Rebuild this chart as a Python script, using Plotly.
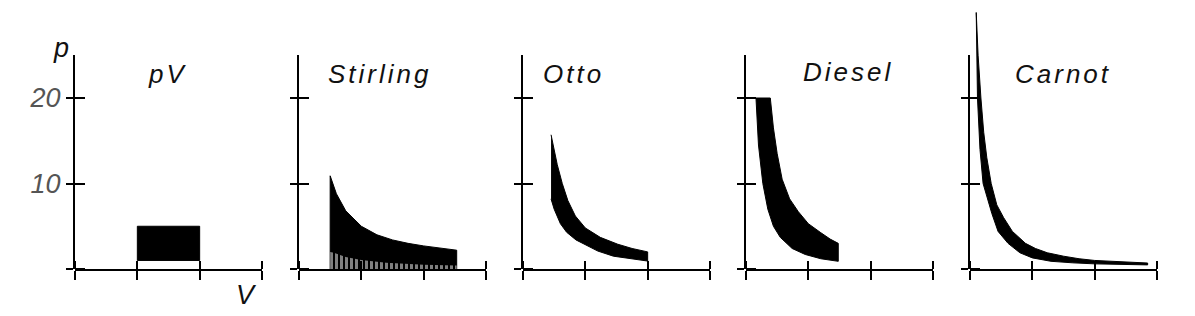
import plotly.graph_objects as go

W, H = 1195, 316

# ---------------- data ----------------
titles = ["pV", "Stirling", "Otto", "Diesel", "Carnot"]
x_tick_vals = [0, 1, 2, 3]
y_tick_vals = [0, 10, 20]
y_tick_text = ["", "10", "20"]

# pV rectangle
pv_v = [1, 1, 2, 2, 1]
pv_p = [1, 5, 5, 1, 1]

# Stirling: hot isotherm (solid region down to axis) and cold isotherm (hatched region)
stirling_hot_v = [0.5, 0.5, 0.6, 0.75, 1.0, 1.25, 1.5, 1.75, 2.0, 2.25, 2.53, 2.53]
stirling_hot_p = [0, 10.9, 8.8, 6.8, 5.0, 4.0, 3.4, 3.0, 2.7, 2.45, 2.2, 0]
stirling_cold_v = [0.5, 0.56, 0.75, 1.0, 1.4, 2.0, 2.53]
stirling_cold_p = [2.0, 1.9, 1.4, 1.05, 0.72, 0.5, 0.4]

# Otto: upper adiabat then lower adiabat (reversed)
otto_upper_v = [0.45, 0.5, 0.55, 0.63, 0.72, 0.84, 1.0, 1.24, 1.52, 1.75, 2.0]
otto_upper_p = [15.7, 13.8, 12.2, 10.0, 8.0, 6.2, 4.8, 3.7, 2.9, 2.4, 2.0]
otto_lower_v = [2.0, 1.7, 1.45, 1.2, 1.0, 0.85, 0.7, 0.6, 0.5, 0.45]
otto_lower_p = [0.93, 1.2, 1.5, 2.1, 2.8, 3.4, 4.3, 5.3, 7.0, 8.2]

# Diesel: isobar at 20, expansion adiabat, compression adiabat (reversed)
diesel_upper_v = [0.16, 0.39, 0.44, 0.5, 0.58, 0.7, 0.84, 1.0, 1.19, 1.35, 1.48]
diesel_upper_p = [20, 20, 16.5, 13.5, 10.5, 8.2, 6.7, 5.3, 4.3, 3.5, 3.0]
diesel_lower_v = [1.48, 1.2, 0.95, 0.74, 0.55, 0.44, 0.35, 0.27, 0.2, 0.16]
diesel_lower_p = [0.9, 1.2, 1.7, 2.4, 3.7, 5.0, 7.0, 10.0, 14.5, 20]

# Carnot: upper boundary then lower boundary (reversed)
carnot_upper_v = [0.1, 0.13, 0.175, 0.22, 0.27, 0.34, 0.43, 0.54, 0.68, 0.89, 1.05,
                  1.24, 1.5, 1.75, 2.0, 2.5, 2.85]
carnot_upper_p = [30, 25, 20, 16, 13, 10, 7.5, 6.0, 4.4, 3.0, 2.4,
                  1.9, 1.5, 1.2, 1.0, 0.8, 0.7]
carnot_lower_v = [2.85, 2.5, 2.0, 1.65, 1.3, 1.0, 0.8, 0.61, 0.45, 0.35, 0.27,
                  0.21, 0.16, 0.12, 0.1]
carnot_lower_p = [0.48, 0.52, 0.6, 0.72, 0.9, 1.3, 1.9, 3.0, 4.4, 6.5, 8.5,
                  10, 14, 20, 30]

# ---------------- layout geometry ----------------
axis_px = [75, 299, 523, 746, 970]    # y-axis positions (px)
panel_w = 187                          # 3 units of V
zero_py = 269                          # p = 0 (px from top)
px_per_p = 8.55
vis_top_py = 55
data_top_py = 4

y_bottom = (H - zero_py) / H
y_vis_top = (H - vis_top_py) / H
y_data_top = (H - data_top_py) / H
vis_range = [0, (zero_py - vis_top_py) / px_per_p]
data_range = [0, (zero_py - data_top_py) / px_per_p]


def nudge(vals):
    """positions for the inner half of each crossing tick (a hair off the major ones)"""
    top = max(vals)
    return [v - 1e-6 if v == top else v + 1e-6 for v in vals]


fig = go.Figure()
BLACK = "black"


def add_poly(v, p, i):
    fig.add_trace(go.Scatter(x=v, y=p, xaxis=f"x{i+1}", yaxis=f"y{i+1}",
                             mode="lines", fill="toself", fillcolor=BLACK,
                             line=dict(color=BLACK, width=1), hoverinfo="skip",
                             showlegend=False))


# pV
add_poly(pv_v, pv_p, 0)
# Stirling
add_poly(stirling_hot_v, stirling_hot_p, 1)
fig.add_trace(go.Scatter(x=stirling_cold_v, y=stirling_cold_p, xaxis="x2", yaxis="y2",
                         mode="lines", fill="tozeroy", line=dict(width=0, color=BLACK),
                         fillcolor=BLACK,
                         fillpattern=dict(shape="|", bgcolor=BLACK, fgcolor="white",
                                          size=5, solidity=0.6),
                         hoverinfo="skip", showlegend=False))
# Otto
add_poly(otto_upper_v + otto_lower_v, otto_upper_p + otto_lower_p, 2)
# Diesel
add_poly(diesel_upper_v + diesel_lower_v, diesel_upper_p + diesel_lower_p, 3)
# Carnot
add_poly(carnot_upper_v + carnot_lower_v, carnot_upper_p + carnot_lower_p, 4)

layout = dict(width=W, height=H, margin=dict(l=0, r=0, t=0, b=0),
              paper_bgcolor="white", plot_bgcolor="rgba(0,0,0,0)",
              showlegend=False)

tick_font = dict(family="Liberation Sans", size=27, color="#555", style="italic")

for i in range(5):
    d0 = axis_px[i] / W
    d1 = (axis_px[i] + panel_w) / W
    n = i + 1
    # x axis: outside major ticks + inside minor ticks => crossing ticks
    layout[f"xaxis{n}"] = dict(domain=[d0, d1], range=[0, 3], anchor=f"y{n}",
                               showline=True, linecolor=BLACK, linewidth=2,
                               ticks="outside", ticklen=9, tickwidth=2, tickcolor=BLACK,
                               tickvals=x_tick_vals, showticklabels=False,
                               minor=dict(tickmode="array", tickvals=nudge(x_tick_vals),
                                          ticks="inside", ticklen=8, tickwidth=2,
                                          tickcolor=BLACK, showgrid=False),
                               showgrid=False, zeroline=False, fixedrange=True)
    # data y axis (hidden)
    layout[f"yaxis{n}"] = dict(domain=[y_bottom, y_data_top], range=data_range,
                               anchor=f"x{n}", visible=False, fixedrange=True)
    # visible y axis
    layout[f"yaxis{n+5}"] = dict(domain=[y_bottom, y_vis_top], range=vis_range,
                                 anchor=f"x{n}", showline=True, linecolor=BLACK,
                                 linewidth=2, ticks="outside", ticklen=7, tickwidth=2,
                                 tickcolor=BLACK, tickvals=y_tick_vals,
                                 ticktext=y_tick_text, showticklabels=(i == 0),
                                 tickfont=tick_font, ticklabelstandoff=0,
                                 minor=dict(tickmode="array", tickvals=nudge(y_tick_vals),
                                            ticks="inside", ticklen=10, tickwidth=2,
                                            tickcolor=BLACK, showgrid=False),
                                 showgrid=False, zeroline=False, fixedrange=True)
    # invisible helper trace so the visible y axis forms a subplot
    fig.add_trace(go.Scatter(x=[1], y=[1], xaxis=f"x{n}", yaxis=f"y{n+5}",
                             mode="markers", marker=dict(opacity=0, size=1),
                             showlegend=False, hoverinfo="skip"))

fig.update_layout(**layout)

# titles
title_x = [167, 379, 573, 848, 1063]
title_y = [74, 74, 74, 72, 74]
title_font = dict(family="Liberation Sans", size=26, color="#111", style="italic")
for t, tx, ty in zip(titles, title_x, title_y):
    fig.add_annotation(text=f'<span style="letter-spacing:3px">{t}</span>',
                       xref="paper", yref="paper", x=tx / W, y=1 - ty / H,
                       xanchor="center", yanchor="middle", showarrow=False,
                       font=title_font)

# axis labels
label_font = dict(family="Liberation Sans", size=27, color="#111", style="italic")
fig.add_annotation(text="p", xref="paper", yref="paper", x=61 / W, y=1 - 48 / H,
                   xanchor="center", yanchor="middle", showarrow=False, font=label_font)
fig.add_annotation(text="V", xref="paper", yref="paper", x=246 / W, y=1 - 295 / H,
                   xanchor="center", yanchor="middle", showarrow=False, font=label_font)

fig.write_html("out.html")
